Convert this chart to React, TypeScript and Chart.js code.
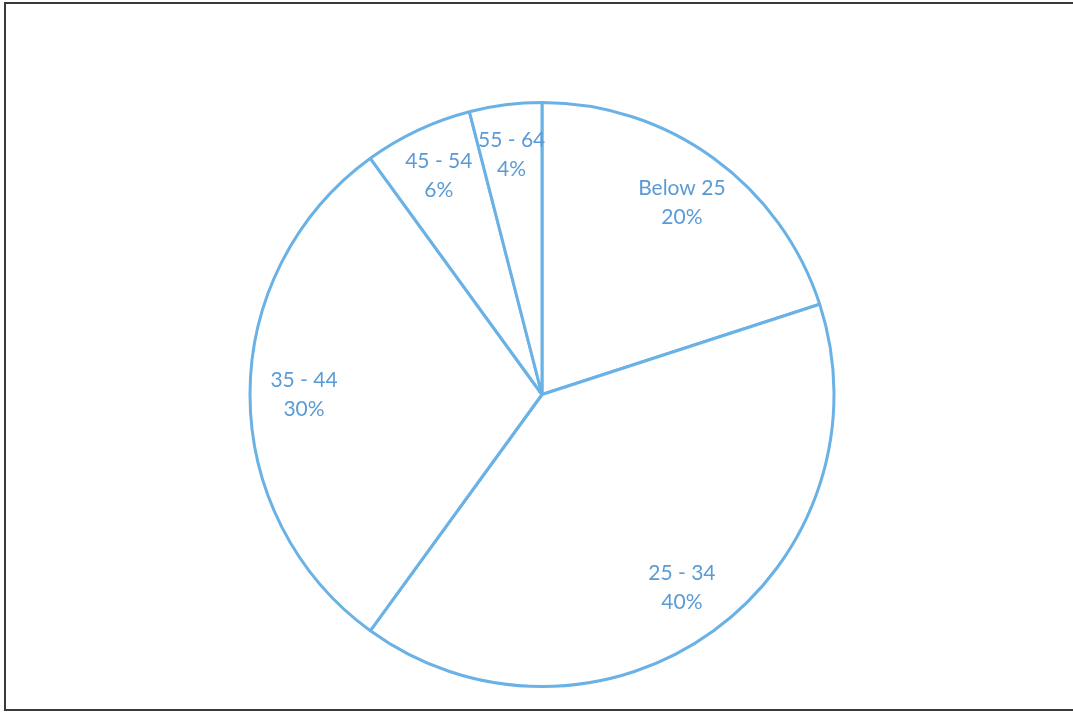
import React, { useEffect, useRef } from "react";
import { Chart, registerables } from "chart.js";

Chart.register(...registerables);

const categories = ["Below 25", "25 - 34", "35 - 44", "45 - 54", "55 - 64"];
const shares = [20, 40, 30, 6, 4];
const percentLabels = ["20%", "40%", "30%", "6%", "4%"];

const LINE_COLOR = "#6AB2E6";
const TEXT_COLOR = "#5B9BD5";

const labelPlugin = {
  id: "sliceLabels",
  afterDatasetsDraw(chart: any) {
    const meta = chart.getDatasetMeta(0);
    const ctx = chart.ctx;
    ctx.save();
    ctx.fillStyle = TEXT_COLOR;
    ctx.font = "21px Lato, 'Open Sans', sans-serif";
    ctx.textAlign = "center";
    ctx.textBaseline = "middle";
    meta.data.forEach((arc: any, i: number) => {
      const p = arc.getProps(["x", "y", "startAngle", "endAngle", "outerRadius"], true);
      const mid = (p.startAngle + p.endAngle) / 2;
      const r = p.outerRadius * (shares[i] < 10 ? 0.83 : 0.815);
      const x = p.x + Math.cos(mid) * r;
      const y = p.y + Math.sin(mid) * r;
      ctx.fillText(categories[i], x, y - 14);
      ctx.fillText(percentLabels[i], x, y + 15);
    });
    ctx.restore();
  },
};

export default function App() {
  const ref = useRef<HTMLCanvasElement>(null);
  useEffect(() => {
    document.body.style.margin = "0";
    if (!ref.current) return;
    const chart = new Chart(ref.current, {
      type: "pie",
      data: {
        labels: categories,
        datasets: [
          {
            data: shares,
            backgroundColor: "#ffffff",
            borderColor: LINE_COLOR,
            borderWidth: 3,
            borderAlign: "center",
          },
        ],
      },
      options: {
        animation: false,
        responsive: false,
        maintainAspectRatio: false,
        layout: { padding: { left: 11, right: 0, top: 101, bottom: 25 } },
        plugins: {
          legend: { display: false },
          tooltip: { enabled: false },
        },
      },
      plugins: [labelPlugin],
    });
    return () => chart.destroy();
  }, []);
  return (
    <div style={{ position: "relative", width: 1073, height: 713, overflow: "hidden", background: "#fff" }}>
      <div
        style={{
          position: "absolute",
          left: 4,
          top: 2,
          width: 1080,
          height: 705,
          border: "2px solid #3a3a3a",
          borderRight: "none",
        }}
      />
      <canvas ref={ref} width={1073} height={713} style={{ position: "absolute", left: 0, top: 0 }} />
    </div>
  );
}
